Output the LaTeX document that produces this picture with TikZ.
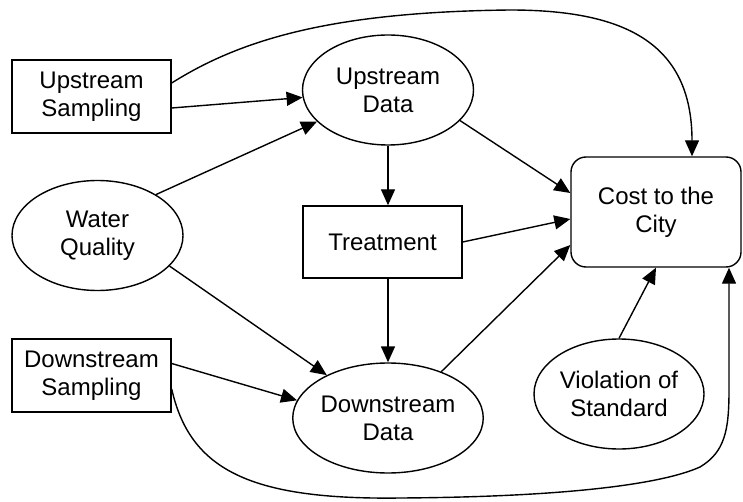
\documentclass[tikz,border=0pt]{standalone}
\usepackage{fontspec}
\setmainfont{Liberation Sans}
\usetikzlibrary{shapes.geometric,arrows.meta}
\begin{document}
\begin{tikzpicture}[x=1pt,y=-1pt,
  every node/.style={font=\fontsize{24}{28}\selectfont, align=center, inner sep=0pt, line width=1.4pt},
  boxnode/.style={draw, rectangle, minimum width=159pt, minimum height=73pt},
  ovalnode/.style={draw, ellipse, minimum width=171pt, minimum height=110pt},
  costnode/.style={draw, rectangle, rounded corners=15pt, minimum width=170pt, minimum height=110pt},
  link/.style={line width=1.4pt, -{Triangle[length=16pt,width=14pt]}}]
\useasboundingbox (0,0) rectangle (743,502);

% chance and decision nodes
\node[boxnode]  (us) at (91.5,96.5)  {Upstream\\Sampling};
\node[ovalnode] (ud) at (388,90)     {Upstream\\Data};
\node[ovalnode] (wq) at (97.5,235.5) {Water\\Quality};
\node[boxnode, minimum height=72pt] (tr) at (382.5,242) {Treatment};
\node[costnode] (cc) at (656,212)    {Cost to the\\City};
\node[boxnode]  (ds) at (91.5,375.5) {Downstream\\Sampling};
\node[ovalnode] (dd) at (388,418)    {Downstream\\Data};
\node[ovalnode, minimum width=170pt] (vs) at (619,394) {Violation of\\Standard};

% influences
\draw[link] ([yshift=-11.5pt]us.east) -- (ud.185);
\draw[link] (wq.35) -- (ud.204);
\draw[link] (wq.-23.5) -- (dd.145);
\draw[link] ([yshift=12pt]ds.east) -- (dd.169);
\draw[link] (ud.south) -- (ud.south |- tr.north);
\draw[link] (tr.south -| dd.north) -- (dd.north);
\draw[link] (ud.-23) -- ([yshift=19pt]cc.west);
\draw[link] (tr.east) -- ([yshift=-7pt]cc.west);
\draw[link] (dd.41) -- ([yshift=-33pt]cc.west);
\draw[link] (vs.north) -- (cc.south);

% long arcs into the cost node
\draw[link] ([yshift=13.5pt]us.east)
  .. controls (240,40) and (330,12) .. (510,10)
  .. controls (620,10) and (692,40) .. ([xshift=36pt]cc.north);
\draw[link] ([yshift=-13.5pt]ds.east)
  .. controls (190,470) and (250,500) .. (400,498)
  .. controls (560,497) and (660,485) .. (700,467)
  .. controls (725,452) and (729,430) .. (729,390)
  -- ([xshift=73pt]cc.south);
\end{tikzpicture}
\end{document}
